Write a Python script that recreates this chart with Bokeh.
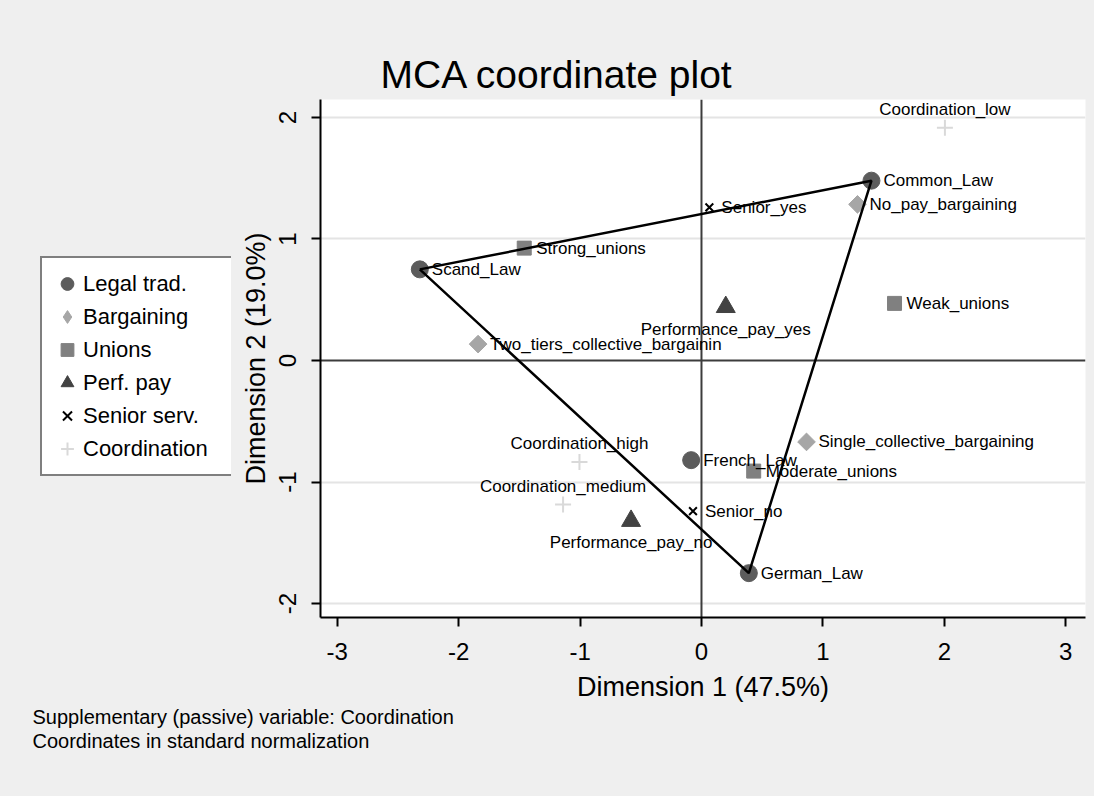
import math
from bokeh.plotting import figure
from bokeh.layouts import row, column
from bokeh.models import (ColumnDataSource, FixedTicker, Span, Legend, LegendItem,
                          Title, Range1d)
from bokeh.embed import file_html
from bokeh.resources import INLINE
from bokeh.core.properties import value

# ---------------- data ----------------
legal_labels = ["Common_Law", "French_Law", "German_Law", "Scand_Law"]
legal_x = [1.40, -0.085, 0.39, -2.32]
legal_y = [1.48, -0.82, -1.75, 0.75]

bargaining_labels = ["No_pay_bargaining", "Single_collective_bargaining",
                     "Two_tiers_collective_bargainin"]
bargaining_x = [1.285, 0.865, -1.84]
bargaining_y = [1.285, -0.67, 0.135]

unions_labels = ["Moderate_unions", "Strong_unions", "Weak_unions"]
unions_x = [0.43, -1.46, 1.59]
unions_y = [-0.91, 0.925, 0.47]

perf_labels = ["Performance_pay_no", "Performance_pay_yes"]
perf_x = [-0.58, 0.20]
perf_y = [-1.32, 0.44]

senior_labels = ["Senior_no", "Senior_yes"]
senior_x = [-0.07, 0.065]
senior_y = [-1.24, 1.26]

coord_labels = ["Coordination_high", "Coordination_low", "Coordination_medium"]
coord_x = [-1.005, 2.005, -1.14]
coord_y = [-0.835, 1.915, -1.185]

hull_order = ["Scand_Law", "Common_Law", "German_Law", "Scand_Law"]

x_ticks = [-3, -2, -1, 0, 1, 2, 3]
x_tick_labels = ["-3", "-2", "-1", "0", "1", "2", "3"]
y_ticks = [-2, -1, 0, 1, 2]
y_tick_labels = ["-2", "-1", "0", "1", "2"]
y_grid_values = [-2, -1, 1, 2]

legend_labels = ["Legal trad.", "Bargaining", "Unions", "Perf. pay",
                 "Senior serv.", "Coordination"]

title_text = "MCA coordinate plot"
x_title = "Dimension 1 (47.5%)"
y_title = "Dimension 2 (19.0%)"
notes = ["Supplementary (passive) variable: Coordination",
         "Coordinates in standard normalization"]

# ---------------- styles ----------------
FONT = "Liberation Sans"
BG = "#efefef"
styles = {
    "legal": dict(marker="circle", size=17, fill_color="#5c5c5c", line_color="#5c5c5c"),
    "barg_key": dict(marker="diamond", size=15, fill_color="#a6a6a6", line_color="#a6a6a6"),
    "barg": dict(marker="square", angle=math.pi / 4, size=12.5,
                 fill_color="#a6a6a6", line_color="#a6a6a6"),
    "unions": dict(marker="square", size=14, fill_color="#808080", line_color="#808080"),
    "perf": dict(marker="triangle", size=19, fill_color="#424242", line_color="#424242"),
    "senior": dict(marker="x", size=11, line_color="black", line_width=2),
    "coord": dict(marker="cross", size=16, line_color="#d9d9d9", line_width=2),
}

# ---------------- main chart ----------------
p = figure(width=863, height=704, output_backend="svg", toolbar_location=None,
           x_range=Range1d(-3.138, 3.163), y_range=Range1d(-2.115, 2.148),
           min_border_left=89, min_border_right=9, min_border_top=99,
           min_border_bottom=87, background_fill_color="white",
           border_fill_color=BG, outline_line_color=None, title=title_text)

p.title.text_font = FONT
p.title.text_font_size = "39px"
p.title.text_font_style = "normal"
p.title.text_color = "black"
p.title.align = "left"
p.title.offset = 60
p.title.standoff = 8

for ax in (p.xaxis[0], p.yaxis[0]):
    ax.axis_line_color = "black"
    ax.axis_line_width = 2
    ax.major_tick_line_color = "black"
    ax.major_tick_line_width = 2
    ax.major_tick_out = 9
    ax.major_tick_in = 0
    ax.minor_tick_out = 0
    ax.minor_tick_in = 0
    ax.major_label_text_font = FONT
    ax.major_label_text_font_size = "24px"
    ax.major_label_text_color = "black"
    ax.axis_label_text_font = FONT
    ax.axis_label_text_font_size = "27px"
    ax.axis_label_text_font_style = "normal"
    ax.axis_label_text_color = "black"

p.xaxis.ticker = FixedTicker(ticks=x_ticks)
p.xaxis.major_label_overrides = dict(zip(x_ticks, x_tick_labels))
p.xaxis.axis_label = x_title
p.xaxis.major_label_standoff = 16
p.xaxis.axis_label_standoff = 9

p.yaxis.ticker = FixedTicker(ticks=y_ticks)
p.yaxis.major_label_overrides = dict(zip(y_ticks, y_tick_labels))
p.yaxis.axis_label = y_title
p.yaxis.major_label_orientation = "vertical"
p.yaxis.major_label_standoff = 15
p.yaxis.axis_label_standoff = 6

p.xgrid.visible = False
p.ygrid.ticker = FixedTicker(ticks=y_grid_values)
p.ygrid.grid_line_color = "#e4e4e4"
p.ygrid.grid_line_width = 2

p.add_layout(Span(location=0, dimension="width", line_color="#3c3c3c",
                  line_width=2, level="underlay"))
p.add_layout(Span(location=0, dimension="height", line_color="#3c3c3c",
                  line_width=2, level="underlay"))

p.scatter(x=legal_x, y=legal_y, **styles["legal"])
p.scatter(x=bargaining_x, y=bargaining_y, **styles["barg"])
p.scatter(x=unions_x, y=unions_y, **styles["unions"])
p.scatter(x=perf_x, y=perf_y, **styles["perf"])
p.scatter(x=senior_x, y=senior_y, **styles["senior"])
p.scatter(x=coord_x, y=coord_y, **styles["coord"])

# point labels
placement = {"right": (12, 0, "left"), "above": (0, -18, "center"),
             "below": (0, 22, "center")}
groups = [(legal_labels, legal_x, legal_y, "right"),
          (bargaining_labels, bargaining_x, bargaining_y, "right"),
          (unions_labels, unions_x, unions_y, "right"),
          (perf_labels, perf_x, perf_y, "below"),
          (senior_labels, senior_x, senior_y, "right"),
          (coord_labels, coord_x, coord_y, "above")]
lab = dict(x=[], y=[], t=[], xo=[], yo=[], ta=[])
for labels, xs, ys, where in groups:
    xo, yo, ta = placement[where]
    for t, xv, yv in zip(labels, xs, ys):
        lab["x"].append(xv)
        lab["y"].append(yv)
        lab["t"].append(t)
        lab["xo"].append(xo)
        lab["yo"].append(yo)
        lab["ta"].append(ta)
p.text(x="x", y="y", text="t", x_offset="xo", y_offset="yo", text_align="ta",
       text_baseline="middle", text_font=value(FONT), text_font_size="17px",
       text_color="black", source=ColumnDataSource(lab))

# triangle joining the legal traditions
hx = [legal_x[legal_labels.index(n)] for n in hull_order]
hy = [legal_y[legal_labels.index(n)] for n in hull_order]
p.line(hx, hy, line_color="black", line_width=2.5)

# ---------------- legend strip (left of the chart) ----------------
lf = figure(width=231, height=704, output_backend="svg", toolbar_location=None,
            x_axis_location=None, y_axis_location=None,
            min_border_left=0, min_border_right=0, min_border_top=99,
            min_border_bottom=87, background_fill_color=BG,
            border_fill_color=BG, outline_line_color=None)
lf.grid.visible = False
keys = [lf.scatter(x=legal_x, y=legal_y, visible=False, **styles["legal"]),
        lf.scatter(x=bargaining_x, y=bargaining_y, visible=False, **styles["barg_key"]),
        lf.scatter(x=unions_x, y=unions_y, visible=False, **styles["unions"]),
        lf.scatter(x=perf_x, y=perf_y, visible=False, **styles["perf"]),
        lf.scatter(x=senior_x, y=senior_y, visible=False, **styles["senior"]),
        lf.scatter(x=coord_x, y=coord_y, visible=False, **styles["coord"])]
legend = Legend(items=[LegendItem(label=l, renderers=[r]) for l, r in zip(legend_labels, keys)],
                location=(40, 141), margin=0,
                border_line_color="black", border_line_width=2,
                background_fill_color="white", background_fill_alpha=1,
                inactive_fill_alpha=0,
                label_text_font=FONT, label_text_font_size="22px",
                label_text_color="black",
                glyph_width=32, glyph_height=33, label_height=33,
                label_width=140, spacing=0, padding=9, label_standoff=0)
lf.add_layout(legend)

# ---------------- notes strip (under the chart) ----------------
nf = figure(width=1094, height=92, output_backend="svg", toolbar_location=None,
            x_axis_location=None, y_axis_location=None,
            min_border_left=320, min_border_right=9, min_border_top=0,
            min_border_bottom=91, background_fill_color=BG,
            border_fill_color=BG, outline_line_color=None)
nf.grid.visible = False
for note in notes:
    nf.add_layout(Title(text=note, text_font=FONT, text_font_size="20px",
                        text_font_style="normal", text_color="black",
                        align="left", offset=-288, standoff=0,
                        vertical_align="top"), "below")

page = column(row(lf, p, spacing=0, styles={"background-color": BG}), nf,
              spacing=0, styles={"background-color": BG})
open("out.html", "w").write(file_html(page, INLINE))
